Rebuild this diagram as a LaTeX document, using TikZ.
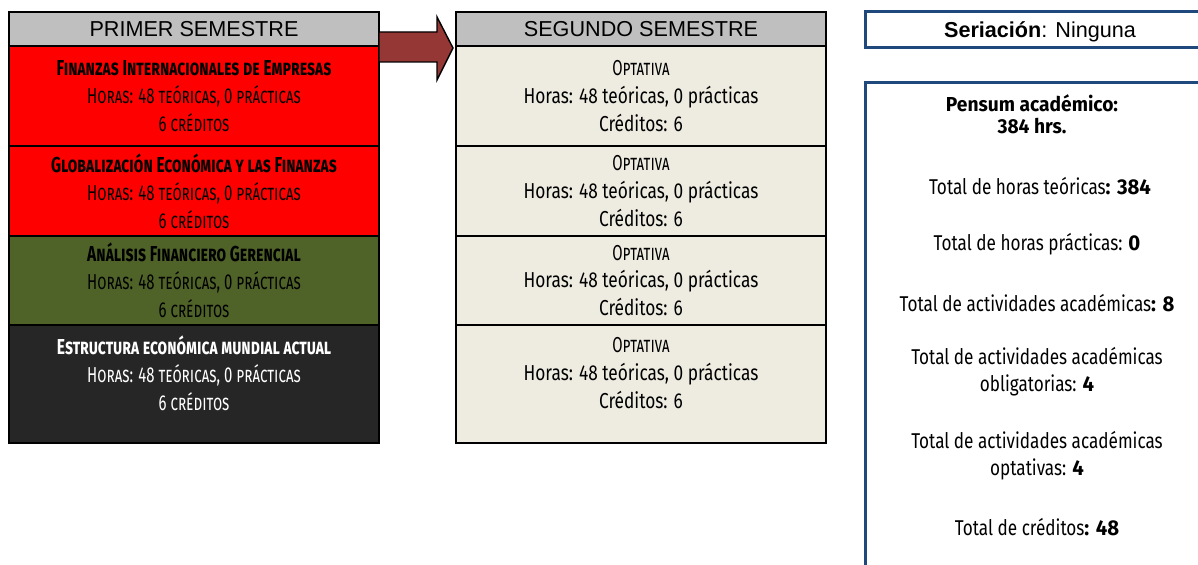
\documentclass[tikz,border=0pt]{standalone}
\usepackage{fontspec}
\setmainfont{Liberation Sans}
\newfontfamily\agency[FakeStretch=0.8]{Fira Sans}
\newfontfamily\agencysc[FakeStretch=0.69]{Fira Sans}
\newfontfamily\agencytitle[FakeStretch=0.72]{Fira Sans}
\newfontfamily\agencybold[FakeStretch=0.95]{Fira Sans}
\usetikzlibrary{positioning}
\definecolor{hdrgray}{RGB}{191,191,191}
\definecolor{beige}{RGB}{238,236,225}
\definecolor{olive}{RGB}{79,98,40}
\definecolor{darkcell}{RGB}{38,38,38}
\definecolor{arrowred}{RGB}{149,55,53}
\definecolor{navy}{RGB}{31,73,125}
\newcommand\subjtitle[1]{{\agencytitle\bfseries\scshape #1}}
\newcommand\subjinfo{{\agencysc\scshape Horas: 48 teóricas, 0 prácticas}\\{\agencysc\scshape 6 créditos}}

\begin{document}
\begin{tikzpicture}[
    semhead/.style={draw, line width=0.6pt, fill=hdrgray, minimum width=7.4cm, minimum height=0.68cm, inner sep=0pt, outer sep=0pt, font=\fontsize{12.3}{14}\selectfont},
    cell/.style={draw, line width=0.6pt, minimum width=7.4cm, inner sep=0pt, outer sep=0pt, align=center, font=\agency\fontsize{12.3}{15.9}\selectfont},
    colframe/.style={draw, line width=1.6pt},
    infobox/.style={draw=navy, line width=1.7pt},
    info/.style={align=center, font=\agency\fontsize{12.2}{15.3}\selectfont}]
  \useasboundingbox (0,0) rectangle (23.96,-11.3);
  \clip (0,0) rectangle (23.96,-11.3);

  % primer semestre
  \node[semhead] (a0) at (3.88,-0.58) {PRIMER SEMESTRE};
  \node[cell, fill=red, minimum height=2.0cm, below=0pt of a0] (a1)
    {\subjtitle{Finanzas Internacionales de Empresas}\\\subjinfo};
  \node[cell, fill=red, minimum height=1.8cm, below=0pt of a1] (a2)
    {\subjtitle{Globalización Económica y las Finanzas}\\\subjinfo};
  \node[cell, fill=olive, minimum height=1.78cm, below=0pt of a2] (a3)
    {\subjtitle{Análisis Financiero Gerencial}\\\subjinfo};
  \node[cell, fill=darkcell, text=white, minimum height=2.36cm, below=0pt of a3] (a4)
    {\subjtitle{Estructura económica mundial actual}\\\subjinfo\\[-0.12cm]\mbox{}};
  \draw[colframe] (a0.north west) rectangle (a4.south east);

  % segundo semestre
  \node[semhead] (m0) at (12.82,-0.58) {SEGUNDO SEMESTRE};
  \foreach \i/\h/\extra in {1/2.0/{},2/1.8/{},3/1.78/{},4/2.36/{\\[-0.12cm]\mbox{}}}{
    \pgfmathtruncatemacro\j{\i-1}
    \node[cell, fill=beige, minimum height=\h cm, below=0pt of m\j] (m\i)
      {{\agencysc\scshape Optativa}\\Horas: 48 teóricas, 0 prácticas\\Créditos: 6\extra};
  }
  \draw[colframe] (m0.north west) rectangle (m4.south east);

  % flecha
  \draw[fill=arrowred, line width=0.8pt] (7.58,-0.64) -- (8.74,-0.64) -- (8.74,-0.34) -- (9.06,-0.96)
    -- (8.74,-1.6) -- (8.74,-1.24) -- (7.58,-1.24) -- cycle;

  % seriacion y pensum
  \draw[infobox] (24.5,-0.24) -- (17.3,-0.24) -- (17.3,-0.96) -- (24.5,-0.96);
  \node[font=\fontsize{12.3}{14}\selectfont] (seri) at (20.8,-0.63) {\textbf{Seriación}: Ninguna};
  \draw[infobox] (24.5,-1.66) -- (17.3,-1.66) -- (17.3,-12);
  \node[info, font=\agencybold\bfseries\fontsize{11.5}{12.5}\selectfont] (pensum) at (20.64,-2.28) {Pensum académico:\\384 hrs.};
  \node[info] (teor) at (20.8,-3.72) {Total de horas teóricas{\agencybold\bfseries: 384}};
  \node[info] (prac) at (20.74,-4.88) {Total de horas prácticas: {\agencybold\bfseries 0}};
  \node[info] (act) at (20.74,-6.06) {Total de actividades académicas{\agencybold\bfseries: 8}};
  \node[info] (oblig) at (20.74,-7.43) {Total de actividades académicas\\obligatorias: {\agencybold\bfseries 4}};
  \node[info] (opt) at (20.74,-9.12) {Total de actividades académicas\\optativas: {\agencybold\bfseries 4}};
  \node[info] (cred) at (20.74,-10.54) {Total de créditos{\agencybold\bfseries: 48}};
\end{tikzpicture}
\end{document}
